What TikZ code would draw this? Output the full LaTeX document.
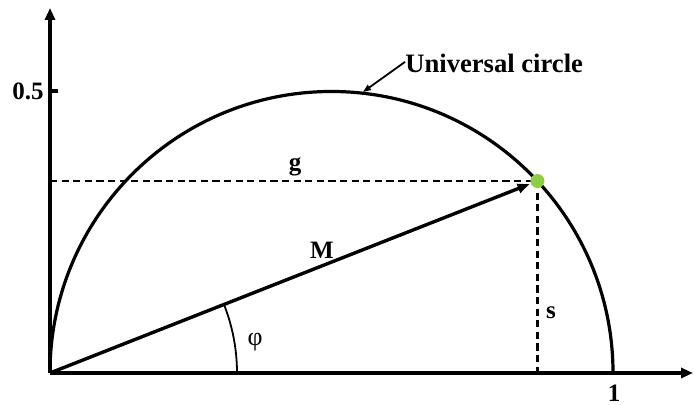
\documentclass[tikz,border=0pt]{standalone}
\usepackage{fontspec}
\setmainfont{Liberation Serif}
\usetikzlibrary{arrows.meta}
\definecolor{dotgreen}{RGB}{141,206,70}
\begin{document}
\begin{tikzpicture}[x=0.5pt,y=0.5pt,
  axis/.style={line width=1.7pt,-{Triangle[length=6pt,width=5pt]}},
  curve/.style={line width=1.6pt},
  dashline/.style={line width=1.3pt,dash pattern=on 3.6pt off 2.2pt},
  vec/.style={line width=1.7pt,-{Triangle[length=6pt,width=4.6pt]},shorten >=4.2pt},
  lbl/.style={font=\bfseries\fontsize{12.5}{14}\selectfont,inner sep=0pt},
  biglbl/.style={font=\bfseries\fontsize{13.3}{15}\selectfont,inner sep=0pt}
]
\useasboundingbox (0,0) rectangle (694,405);
\coordinate (O) at (50,32);
\coordinate (Xend) at (693,32);
\coordinate (Yend) at (50,397);
\coordinate (R) at (613,32);
\coordinate (P) at (537.4,224);
\coordinate (Pg) at (50,224);
\coordinate (Ps) at (537.4,32);
\coordinate (T1) at (50,314);
\coordinate (T2) at (58,314);
\coordinate (A0) at (237,32);
\coordinate (Ctop) at (363,313);
% semicircle
\draw[curve] (R) arc[start angle=0,end angle=180,radius=281.5];
% axes
\draw[axis] (O) -- (Xend);
\draw[axis] (O) -- (Yend);
\draw[line width=1.7pt] (T1) -- (T2);
% dashed projections
\draw[dashline] (Pg) -- (P);
\draw[dashline] (P) -- (Ps);
% vector M
\draw[vec] (O) -- (P);
% angle arc
\draw[line width=0.9pt] (A0) arc[start angle=0,end angle=21.5,radius=187];
% point
\node[circle,fill=dotgreen,minimum size=7pt,inner sep=0pt] (dot) at (P) {};
% labels
\node[lbl] (half) at (28,314) {0.5};
\node[lbl,anchor=south] (one) at (614,3) {1};
\node[lbl] (g) at (295,238) {g};
\node[lbl] (M) at (322,155) {M};
\node[lbl] (s) at (551,92) {s};
\node[lbl,font=\fontsize{13}{14}\selectfont] (phi) at (255,63) {φ};
\node[biglbl,anchor=base west] (uc) at (405,332) {Universal circle};
\draw[line width=0.9pt,-{Triangle[length=4pt,width=3pt]}] (uc.west) ++(0,2) coordinate (ucs) (ucs) -- (Ctop);
\end{tikzpicture}
\end{document}
